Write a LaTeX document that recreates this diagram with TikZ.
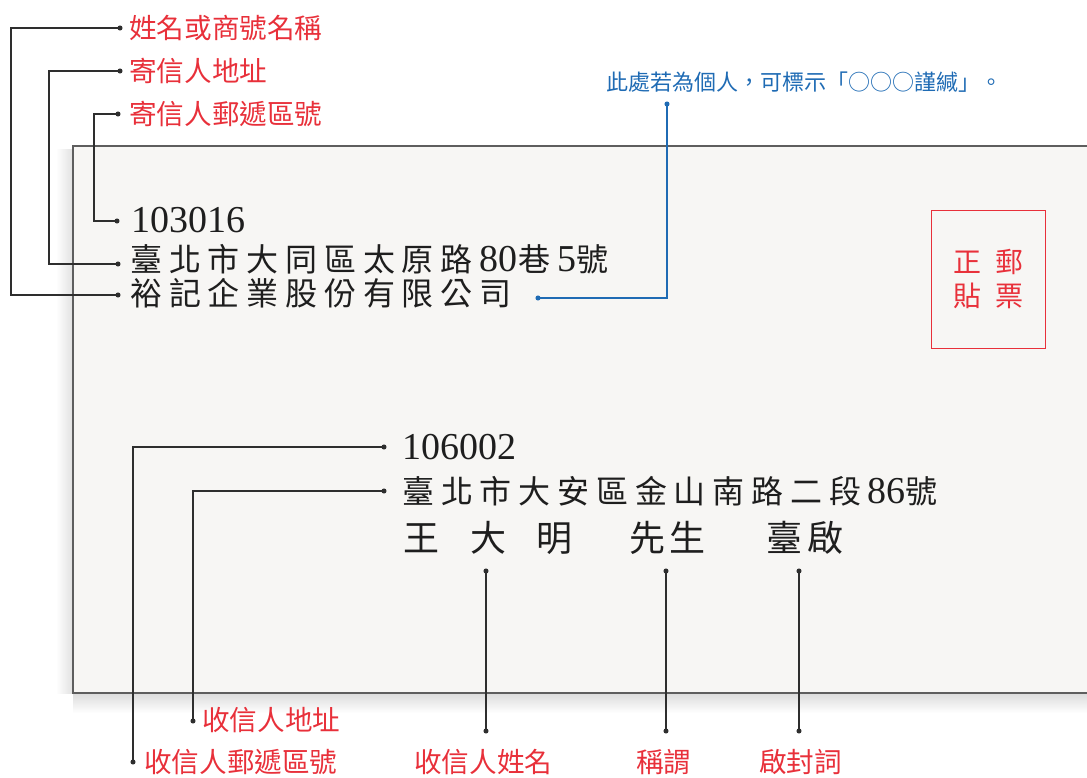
\documentclass[tikz,border=0pt]{standalone}
\usepackage{fontspec}
\setmainfont{Liberation Serif}
\newfontfamily\cjk{Noto Sans CJK TC}
\usetikzlibrary{calc}
\definecolor{lblred}{HTML}{E8303A}
\definecolor{noteblue}{HTML}{1F6BB4}
\definecolor{ink}{HTML}{1E1E1E}
\definecolor{conncol}{HTML}{2E2E2E}
\definecolor{envfill}{HTML}{F7F6F4}
\definecolor{envline}{HTML}{5E5E5E}
\newlength\pitch
\setlength\pitch{29.1pt}
\def\spc#1{\spcA#1\relax}
\def\spcA#1{\ifx#1\relax\else\makebox[\pitch][l]{#1}\expandafter\spcA\fi}
\newcommand\numf{\rmfamily\fontsize{28.5pt}{29pt}\selectfont}
\tikzset{
  lbl/.style={text=lblred, font=\cjk\fontsize{20.7pt}{21pt}\selectfont, anchor=base west, inner sep=0},
  envtxt/.style={text=ink, font=\cjk\fontsize{24pt}{25pt}\selectfont, anchor=base west, inner sep=0},
  namech/.style={text=ink, font=\cjk\fontsize{27pt}{28pt}\selectfont, anchor=base, inner sep=0},
  stampch/.style={text=lblred, font=\cjk\fontsize{21pt}{22pt}\selectfont, anchor=base, inner sep=0},
  note/.style={text=noteblue, font=\cjk\fontsize{16.5pt}{17pt}\selectfont, anchor=base west, inner sep=0},
  dot/.style={circle, fill=conncol, inner sep=0, minimum size=3.8pt},
  bdot/.style={circle, fill=noteblue, inner sep=0, minimum size=3.8pt},
  conn/.style={draw=conncol, line width=0.95pt},
  bconn/.style={draw=noteblue, line width=0.95pt},
}
\begin{document}
\begin{tikzpicture}[x=0.75pt,y=-0.75pt]
\useasboundingbox (0,0) rectangle (1087,777);
% envelope shadow
\shade[top color=black!14, bottom color=white] (73,693) rectangle (1087,713);
\shade[left color=white, right color=black!12] (56,150) rectangle (73,693);
% envelope
\fill[envfill] (73,146) rectangle (1087,693);
\draw[envline, line width=1.1pt] (1087,146) -- (73,146) -- (73,693) -- (1087,693);
% stamp box
\node[draw=lblred, line width=0.9pt, minimum width=85.5pt, minimum height=103.5pt, inner sep=0, anchor=north west] (stamp) at (931,210) {};
\node[stampch] (s1) at (1009,272.6) {郵};
\node[stampch] (s2) at (1009,306.6) {票};
\node[stampch] (s3) at (967,272.6) {正};
\node[stampch] (s4) at (967,306.6) {貼};
% sender block
\node[envtxt, anchor=base west] (szip) at (131,233) {\numf 103016};
\node[envtxt] (saddr) at (130,271) {\spc{臺北市大同區太原路}{\numf 80}\hspace{1pt}\spc{巷}{\numf 5}\spc{號}};
\node[envtxt] (sname) at (130,305) {\spc{裕記企業股份有限公司}};
% recipient block
\node[envtxt, anchor=base west] (rzip) at (402,459) {\numf 106002};
\node[envtxt] (raddr) at (402,503) {\spc{臺北市大安區金山南路二段}{\numf 86}\spc{號}};
\node[namech] (n1) at (421,551.5) {王};
\node[namech] (n2) at (488,551.5) {大};
\node[namech] (n3) at (554,551.5) {明};
\node[namech] (n4) at (647,551.5) {先};
\node[namech] (n5) at (687,551.5) {生};
\node[namech] (n6) at (784,551.5) {臺};
\node[namech] (n7) at (825,551.5) {啟};
% top labels
\node[lbl] (l1) at (129,38.5) {姓名或商號名稱};
\node[lbl] (l2) at (129,81.5) {寄信人地址};
\node[lbl] (l3) at (129,125) {寄信人郵遞區號};
% bottom labels
\node[lbl] (l4) at (202,730.5) {收信人地址};
\node[lbl] (l5) at (144,772.5) {收信人郵遞區號};
\node[lbl] (l6) at (414,772.5) {收信人姓名};
\node[lbl] (l7) at (636,772.5) {稱謂};
\node[lbl] (l8) at (759,772.5) {啟封詞};
% note
\node[note] (nt) at (606,90.5) {此處若為個人，可標示「○○○謹緘」。};
% dots
\node[dot] (a1) at (120,28) {};
\node[dot] (a2) at (118,295) {};
\node[dot] (b1) at (120,71) {};
\node[dot] (b2) at (118,264) {};
\node[dot] (c1) at (118,114) {};
\node[dot] (c2) at (117,221) {};
\node[dot] (d1) at (384,447) {};
\node[dot] (d2) at (133,762) {};
\node[dot] (e1) at (384,491) {};
\node[dot] (e2) at (193,721) {};
\node[dot] (f1) at (486,571) {};
\node[dot] (f2) at (486,731) {};
\node[dot] (g1) at (666,571) {};
\node[dot] (g2) at (666,731) {};
\node[dot] (h1) at (799,571) {};
\node[dot] (h2) at (799,731) {};
\node[bdot] (p1) at (667,104) {};
\node[bdot] (p2) at (538,298) {};
% corner x positions
\coordinate (ka) at (11,0);
\coordinate (kb) at (49,0);
\coordinate (kc) at (94,0);
% connectors
\draw[conn] (a1.center) -- (a1.center -| ka) |- (a2.center);
\draw[conn] (b1.center) -- (b1.center -| kb) |- (b2.center);
\draw[conn] (c1.center) -- (c1.center -| kc) |- (c2.center);
\draw[conn] (d1.center) -| (d2.center);
\draw[conn] (e1.center) -| (e2.center);
\draw[conn] (f1.center) -- (f2.center);
\draw[conn] (g1.center) -- (g2.center);
\draw[conn] (h1.center) -- (h2.center);
\draw[bconn] (p1.center) |- (p2.center);
\end{tikzpicture}
\end{document}
